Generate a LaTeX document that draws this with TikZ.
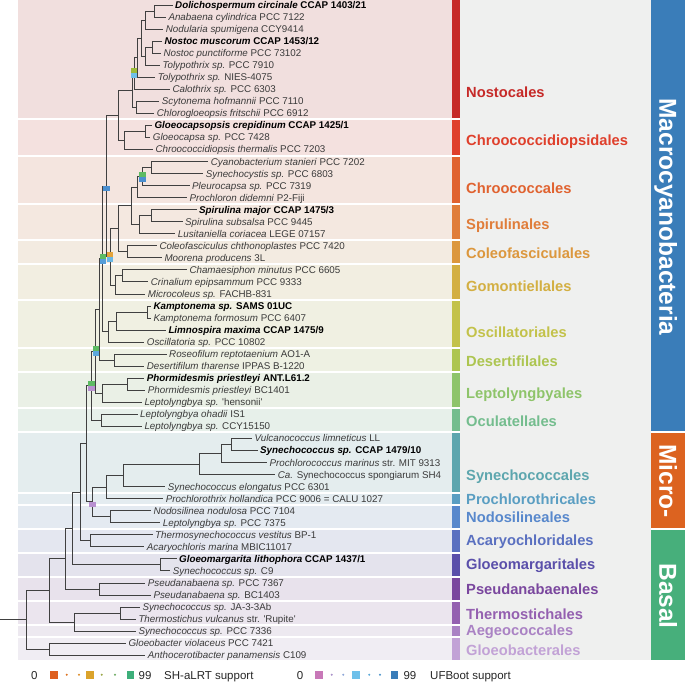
\documentclass[tikz,border=0pt]{standalone}
\usepackage{fontspec}
\setmainfont{Liberation Sans}
\newfontfamily\lib{Liberation Sans}
\definecolor{treec}{HTML}{404040}
\definecolor{leafc}{HTML}{3A3A3A}
\definecolor{panel}{HTML}{EFF0EF}
\definecolor{cNost}{HTML}{C62A28}
\definecolor{cChrd}{HTML}{DF3F2B}
\definecolor{cChro}{HTML}{E0622F}
\definecolor{cSpir}{HTML}{E07D3A}
\definecolor{cCole}{HTML}{DC973D}
\definecolor{cGomo}{HTML}{D3AF42}
\definecolor{cOsci}{HTML}{C3C24A}
\definecolor{cDese}{HTML}{ADC550}
\definecolor{cLept}{HTML}{8EC46A}
\definecolor{cOcul}{HTML}{74BD8E}
\definecolor{cSyne}{HTML}{5DA6AE}
\definecolor{cProc}{HTML}{5A9EC2}
\definecolor{cNodo}{HTML}{5888CC}
\definecolor{cAcar}{HTML}{5A70C0}
\definecolor{cGlma}{HTML}{5A4FAA}
\definecolor{cPseu}{HTML}{7A479E}
\definecolor{cTher}{HTML}{9460B0}
\definecolor{cAege}{HTML}{AA82C4}
\definecolor{cGlba}{HTML}{C2A2D6}
\definecolor{cMacro}{HTML}{3A7DB9}
\definecolor{cMicro}{HTML}{DC6320}
\definecolor{cBasal}{HTML}{47AF7B}
\definecolor{shA}{HTML}{DE5F1F}
\definecolor{shB}{HTML}{DBA32B}
\definecolor{shC}{HTML}{3DAF7A}
\definecolor{ufA}{HTML}{C878B8}
\definecolor{ufB}{HTML}{6EC0EA}
\definecolor{ufC}{HTML}{3A7DB9}
\definecolor{sqgreen}{HTML}{5DBB63}
\definecolor{sqolive}{HTML}{9DBB3A}
\definecolor{sqorange}{HTML}{E3A33A}
\definecolor{sqblue}{HTML}{4A8FD0}
\definecolor{sqlblue}{HTML}{6EC0EA}
\definecolor{sqpurple}{HTML}{B890D0}
\newcommand\lf[3]{\node[leaf] (L#1) at (#2,{5+12.04*(#1-1)}) {#3};}
\newcommand\lfb[3]{\node[leaf,leafb] (L#1) at (#2,{5+12.04*(#1-1)}) {#3};}
\newcommand\edg[2]{\draw[br] (#1) |- (#2);}
\newcommand\edl[2]{\draw[br,shorten >=2.5pt] (#1) |- (L#2.west);}
\newcommand\sqT[2]{\fill[#2] (#1) ++(-3.3,-5) rectangle ++(6.6,5);}
\newcommand\sqB[2]{\fill[#2] (#1) ++(-3.3,0) rectangle ++(6.6,5);}
\newcommand\bnd[5]{%
  \fill[#1!12!white!97!black] (18,{5+12.04*(#2-1)-5.02}) rectangle (452,{5+12.04*(#3-1)+5.02});
  \fill[#1] (452,{5+12.04*(#2-1)-5.02}) rectangle (460,{5+12.04*(#3-1)+5.02});
  \node[ordlab,text=#1] (o#1) at (466,#4) {#5};}
\begin{document}
\begin{tikzpicture}[x=1pt,y=-1pt,
  br/.style={draw=treec,line width=0.85pt},
  leaf/.style={anchor=west,inner sep=0pt,text height=7pt,text depth=0pt,
    font=\lib\fontsize{9.8}{11}\selectfont,text=leafc},
  leafb/.style={text=black,font=\lib\bfseries\fontsize{9.8}{11}\selectfont},
  ordlab/.style={anchor=west,inner sep=0pt,text height=10.5pt,text depth=0pt,
    font=\lib\bfseries\fontsize{14.7}{16}\selectfont},
  classlab/.style={rotate=-90,inner sep=0pt,text height=17.5pt,text depth=0pt,
    font=\lib\bfseries\fontsize{24.5}{26}\selectfont,text=white},
  legtext/.style={anchor=west,inner sep=0pt,text height=8.2pt,text depth=0pt,
    font=\lib\fontsize{11.5}{13}\selectfont,text=black!85}]
\useasboundingbox (0,0) rectangle (685,682);
% label panel
\fill[panel] (460,0) rectangle (651,660.18);
% bands, bars and order labels
\fill[cNost!12!white!97!black] (18,0) rectangle (452,118.38);
\fill[cNost] (452,0) rectangle (460,118.38);
\node[ordlab,text=cNost] (oNost) at (466,92) {Nostocales};
\bnd{cChrd}{11}{13}{140}{Chroococcidiopsidales}
\bnd{cChro}{14}{17}{188}{Chroococcales}
\bnd{cSpir}{18}{20}{224}{Spirulinales}
\bnd{cCole}{21}{22}{253}{Coleofasciculales}
\bnd{cGomo}{23}{25}{286}{Gomontiellales}
\bnd{cOsci}{26}{29}{332}{Oscillatoriales}
\bnd{cDese}{30}{31}{361}{Desertifilales}
\bnd{cLept}{32}{34}{393}{Leptolyngbyales}
\bnd{cOcul}{35}{36}{421}{Oculatellales}
\bnd{cSyne}{37}{41}{475}{Synechococcales}
\bnd{cProc}{42}{42}{499}{Prochlorothricales}
\bnd{cNodo}{43}{44}{517}{Nodosilineales}
\bnd{cAcar}{45}{46}{540}{Acaryochloridales}
\bnd{cGlma}{47}{48}{564}{Gloeomargaritales}
\bnd{cPseu}{49}{50}{589}{Pseudanabaenales}
\bnd{cTher}{51}{52}{614}{Thermostichales}
\bnd{cAege}{53}{53}{630}{Aegeococcales}
\bnd{cGlba}{54}{55}{650}{Gloeobacterales}
% class bars
\fill[cMacro] (651,0) rectangle (685,431.42);
\fill[cMicro] (651,433.42) rectangle (685,527.74);
\fill[cBasal] (651,529.74) rectangle (685,660.18);
\node[classlab] (kMacro) at (668,217) {Macrocyanobacteria};
\node[classlab] (kMicro) at (668,481) {Micro-};
\node[classlab] (kBasal) at (668,596) {Basal};
% leaves
\lfb{1}{175}{\textit{Dolichospermum circinale} CCAP 1403/21}
\lf{2}{168.3}{\textit{Anabaena cylindrica} PCC 7122}
\lf{3}{165.7}{\textit{Nodularia spumigena} CCY9414}
\lfb{4}{164.3}{\textit{Nostoc muscorum} CCAP 1453/12}
\lf{5}{163.3}{\textit{Nostoc punctiforme} PCC 73102}
\lf{6}{162.3}{\textit{Tolypothrix sp.} PCC 7910}
\lf{7}{157.7}{\textit{Tolypothrix sp.} NIES-4075}
\lf{8}{172.3}{\textit{Calothrix sp.} PCC 6303}
\lf{9}{161.7}{\textit{Scytonema hofmannii} PCC 7110}
\lf{10}{156.7}{\textit{Chlorogloeopsis fritschii} PCC 6912}
\lfb{11}{154.3}{\textit{Gloeocapsopsis crepidinum} CCAP 1425/1}
\lf{12}{152.7}{\textit{Gloeocapsa sp.} PCC 7428}
\lf{13}{155.3}{\textit{Chroococcidiopsis thermalis} PCC 7203}
\lf{14}{210.7}{\textit{Cyanobacterium stanieri} PCC 7202}
\lf{15}{205.7}{\textit{Synechocystis sp.} PCC 6803}
\lf{16}{192}{\textit{Pleurocapsa sp.} PCC 7319}
\lf{17}{189.3}{\textit{Prochloron didemni} P2-Fiji}
\lfb{18}{199}{\textit{Spirulina major} CCAP 1475/3}
\lf{19}{185}{\textit{Spirulina subsalsa} PCC 9445}
\lf{20}{177.7}{\textit{Lusitaniella coriacea} LEGE 07157}
\lf{21}{159.3}{\textit{Coleofasciculus chthonoplastes} PCC 7420}
\lf{22}{164.3}{\textit{Moorena producens} 3L}
\lf{23}{189.3}{\textit{Chamaesiphon minutus} PCC 6605}
\lf{24}{150.7}{\textit{Crinalium epipsammum} PCC 9333}
\lf{25}{147.7}{\textit{Microcoleus sp.} FACHB-831}
\lfb{26}{153.3}{\textit{Kamptonema sp.} SAMS 01UC}
\lf{27}{153.3}{\textit{Kamptonema formosum} PCC 6407}
\lfb{28}{168.3}{\textit{Limnospira maxima} CCAP 1475/9}
\lf{29}{146.7}{\textit{Oscillatoria sp.} PCC 10802}
\lf{30}{169}{\textit{Roseofilum reptotaenium} AO1-A}
\lf{31}{146.7}{\textit{Desertifilum tharense} IPPAS B-1220}
\lfb{32}{146.7}{\textit{Phormidesmis priestleyi} ANT.L61.2}
\lf{33}{147.7}{\textit{Phormidesmis priestleyi} BC1401}
\lf{34}{144.3}{\textit{Leptolyngbya sp.} 'hensonii'}
\lf{35}{140}{\textit{Leptolyngbya ohadii} IS1}
\lf{36}{144.3}{\textit{Leptolyngbya sp.} CCY15150}
\lf{37}{254.3}{\textit{Vulcanococcus limneticus} LL}
\lfb{38}{260}{\textit{Synechococcus sp.} CCAP 1479/10}
\lf{39}{269.3}{\textit{Prochlorococcus marinus} str. MIT 9313}
\lf{40}{277.7}{\textit{Ca.} Synechococcus spongiarum SH4}
\lf{41}{167.7}{\textit{Synechococcus elongatus} PCC 6301}
\lf{42}{165.7}{\textit{Prochlorothrix hollandica} PCC 9006 = CALU 1027}
\lf{43}{153.3}{\textit{Nodosilinea nodulosa} PCC 7104}
\lf{44}{162.7}{\textit{Leptolyngbya sp.} PCC 7375}
\lf{45}{155}{\textit{Thermosynechococcus vestitus} BP-1}
\lf{46}{146.7}{\textit{Acaryochloris marina} MBIC11017}
\lfb{47}{179}{\textit{Gloeomargarita lithophora} CCAP 1437/1}
\lf{48}{172.7}{\textit{Synechococcus sp.} C9}
\lf{49}{147.7}{\textit{Pseudanabaena sp.} PCC 7367}
\lf{50}{153.3}{\textit{Pseudanabaena sp.} BC1403}
\lf{51}{142.3}{\textit{Synechococcus sp.} JA-3-3Ab}
\lf{52}{138.3}{\textit{Thermostichus vulcanus} str. 'Rupite'}
\lf{53}{138.3}{\textit{Synechococcus sp.} PCC 7336}
\lf{54}{128.3}{\textit{Gloeobacter violaceus} PCC 7421}
\lf{55}{147.7}{\textit{Anthocerotibacter panamensis} C109}
% internal nodes
\coordinate (n1) at (154,11.02);
\coordinate (n2) at (145.5,20.05);
\coordinate (n3) at (152,47.14);
\coordinate (n4) at (145,56.17);
\coordinate (n5) at (141,38.11);
\coordinate (n6) at (137.5,57.68);
\coordinate (n7) at (134,73.48);
\coordinate (n8) at (136,107.34);
\coordinate (n9) at (132.5,90.41);
\coordinate (c1) at (145,131.42);
\coordinate (c2) at (124,140.45);
\coordinate (n10) at (118,115.43);
\coordinate (ch1) at (151.7,167.54);
\coordinate (ch2) at (142.7,176.57);
\coordinate (ch3) at (137.3,187.1);
\coordinate (sp1) at (151.7,215.7);
\coordinate (sp2) at (139.3,224.73);
\coordinate (ch4) at (131.7,205.92);
\coordinate (co1) at (127.3,251.82);
\coordinate (ch5) at (118.3,228.87);
\coordinate (go1) at (122.7,275.9);
\coordinate (go2) at (115,284.93);
\coordinate (ch6) at (110,256.9);
\coordinate (P1) at (106.5,186.17);
\coordinate (os1) at (147.7,312.02);
\coordinate (os2) at (116.7,321.05);
\coordinate (os3) at (108.3,331.59);
\coordinate (P2) at (102.8,258.88);
\coordinate (de1) at (114.3,360.18);
\coordinate (P3) at (99.5,309.53);
\coordinate (le1) at (127.3,384.26);
\coordinate (le2) at (102.7,393.29);
\coordinate (P4) at (95.8,351.41);
\coordinate (oc1) at (101.7,420.38);
\coordinate (P5) at (91.5,385.9);
\coordinate (sy1) at (231,444.46);
\coordinate (sy2) at (221.7,453.49);
\coordinate (sy3) at (199,464.03);
\coordinate (sy4) at (123.3,475.31);
\coordinate (sy5) at (106.7,486.98);
\coordinate (no1) at (110,516.7);
\coordinate (sy6) at (92.3,501.84);
\coordinate (M1) at (86.7,443.87);
\coordinate (ac1) at (90,540.78);
\coordinate (M2) at (80,492.33);
\coordinate (gm1) at (160.7,564.86);
\coordinate (M3) at (72.7,528.6);
\coordinate (ps1) at (99,588.94);
\coordinate (M4) at (65.7,558.77);
\coordinate (th1) at (120.7,613.02);
\coordinate (th2) at (74,622.05);
\coordinate (M5) at (49,590.41);
\coordinate (gb1) at (49,649.14);
\coordinate (root) at (26,619.78);
\coordinate (rootend) at (0,619.78);
% edges
\edl{n1}{1}\edl{n1}{2}\edg{n2}{n1}\edl{n2}{3}
\edl{n3}{4}\edl{n3}{5}\edg{n4}{n3}\edl{n4}{6}
\edg{n5}{n2}\edg{n5}{n4}\edg{n6}{n5}\edl{n6}{7}
\edg{n7}{n6}\edl{n7}{8}\edl{n8}{9}\edl{n8}{10}
\edg{n9}{n7}\edg{n9}{n8}
\edl{c1}{11}\edl{c1}{12}\edg{c2}{c1}\edl{c2}{13}
\edg{n10}{n9}\edg{n10}{c2}
\edl{ch1}{14}\edl{ch1}{15}\edg{ch2}{ch1}\edl{ch2}{16}
\edg{ch3}{ch2}\edl{ch3}{17}
\edl{sp1}{18}\edl{sp1}{19}\edg{sp2}{sp1}\edl{sp2}{20}
\edg{ch4}{ch3}\edg{ch4}{sp2}
\edl{co1}{21}\edl{co1}{22}\edg{ch5}{ch4}\edg{ch5}{co1}
\edl{go1}{23}\edl{go1}{24}\edg{go2}{go1}\edl{go2}{25}
\edg{ch6}{ch5}\edg{ch6}{go2}
\edg{P1}{n10}\edg{P1}{ch6}
\edl{os1}{26}\edl{os1}{27}\edg{os2}{os1}\edl{os2}{28}
\edg{os3}{os2}\edl{os3}{29}
\edg{P2}{P1}\edg{P2}{os3}
\edl{de1}{30}\edl{de1}{31}\edg{P3}{P2}\edg{P3}{de1}
\edl{le1}{32}\edl{le1}{33}\edg{le2}{le1}\edl{le2}{34}
\edg{P4}{P3}\edg{P4}{le2}
\edl{oc1}{35}\edl{oc1}{36}\edg{P5}{P4}\edg{P5}{oc1}
\edl{sy1}{37}\edl{sy1}{38}\edg{sy2}{sy1}\edl{sy2}{39}
\edg{sy3}{sy2}\edl{sy3}{40}\edg{sy4}{sy3}\edl{sy4}{41}
\edg{sy5}{sy4}\edl{sy5}{42}
\edl{no1}{43}\edl{no1}{44}\edg{sy6}{sy5}\edg{sy6}{no1}
\edg{M1}{P5}\edg{M1}{sy6}
\edl{ac1}{45}\edl{ac1}{46}\edg{M2}{M1}\edg{M2}{ac1}
\edl{gm1}{47}\edl{gm1}{48}\edg{M3}{M2}\edg{M3}{gm1}
\edl{ps1}{49}\edl{ps1}{50}\edg{M4}{M3}\edg{M4}{ps1}
\edl{th1}{51}\edl{th1}{52}\edg{th2}{th1}\edl{th2}{53}
\edg{M5}{M4}\edg{M5}{th2}
\edl{gb1}{54}\edl{gb1}{55}
\edg{root}{M5}\edg{root}{gb1}
\draw[br] (rootend) -- (root);
% support squares
\sqT{n7}{sqolive}\sqB{n7}{sqlblue}
\sqT{ch2}{sqgreen}\sqB{ch2}{sqblue}
\sqB{P1}{sqblue}
\sqT{ch6}{sqorange}\sqB{ch6}{sqlblue!80!sqblue}
\sqT{P2}{sqgreen}\sqB{P2}{sqblue!70!sqlblue}
\sqT{P4}{sqgreen}\sqB{P4}{sqblue!50!sqlblue}
\sqT{P5}{sqgreen}\sqB{P5}{sqpurple}
\sqB{sy6}{sqpurple}
% legend
\node[legtext] (g0a) at (31,675) {0};
\fill[shA] (50,670.5) rectangle (57.5,679);
\fill[shA!70!shB] (66.7,674.7) circle (1.1);
\fill[shA!35!shB] (79,674.7) circle (1.1);
\fill[shB] (86.3,670.5) rectangle (93.8,679);
\fill[shB!60!shC] (101.7,674.7) circle (1.1);
\fill[shB!30!shC] (115,674.7) circle (1.1);
\fill[shC] (126.7,670.5) rectangle (134.2,679);
\node[legtext] (g99a) at (138.5,675) {99};
\node[legtext] (gsh) at (164,675) {SH-aLRT support};
\node[legtext] (g0b) at (296.7,675) {0};
\fill[ufA] (315,670.5) rectangle (322.5,679);
\fill[ufA!65!ufB] (331.7,674.7) circle (1.1);
\fill[ufA!35!ufB] (343.3,674.7) circle (1.1);
\fill[ufB] (352,670.5) rectangle (359.5,679);
\fill[ufB!65!ufC] (369.3,674.7) circle (1.1);
\fill[ufB!35!ufC] (380,674.7) circle (1.1);
\fill[ufC] (390.7,670.5) rectangle (398.2,679);
\node[legtext] (g99b) at (403.3,675) {99};
\node[legtext] (guf) at (430,675) {UFBoot support};
\end{tikzpicture}
\end{document}
